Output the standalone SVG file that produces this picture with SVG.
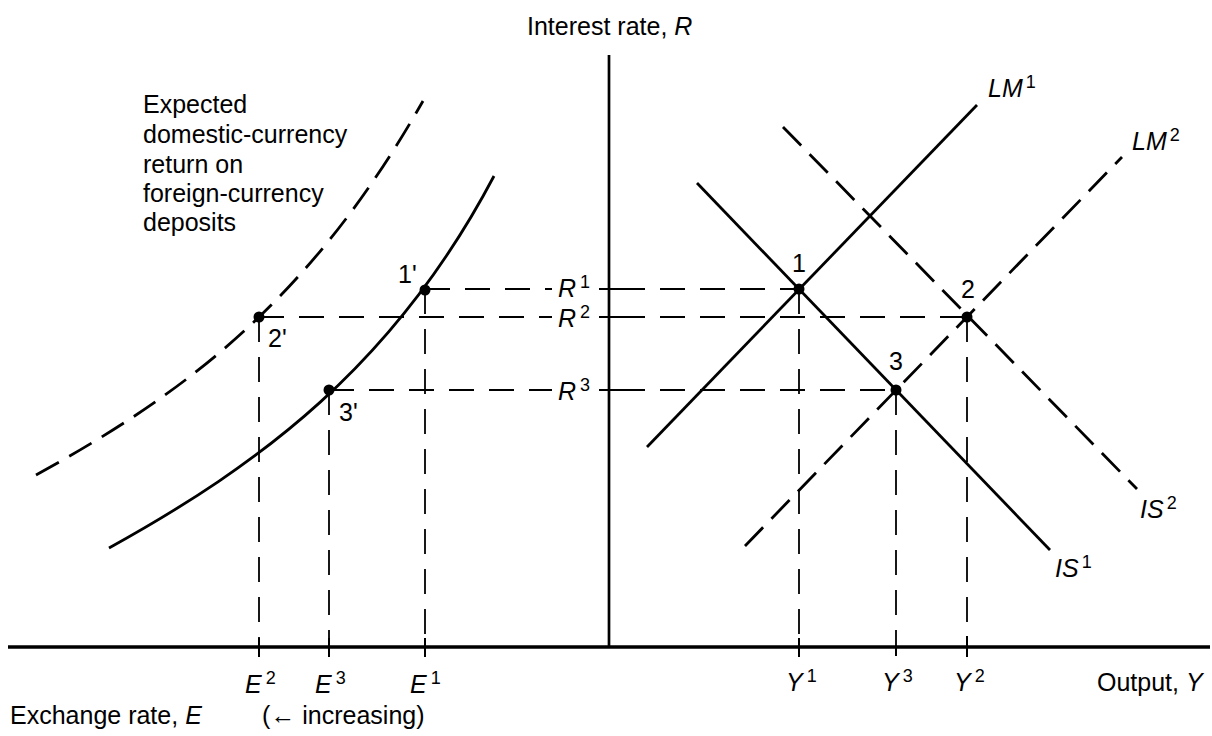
<svg xmlns="http://www.w3.org/2000/svg" width="1212" height="736" viewBox="0 0 1212 736">
<style>
text{font-family:"Liberation Sans",Arial,sans-serif;font-size:25px;fill:#000}
.it{font-style:italic}
.sup{font-size:18px;font-style:normal}
.axis{stroke:#000;fill:none}
.curve{stroke:#000;stroke-width:2.8;fill:none}
.dcurve{stroke:#000;stroke-width:2.8;fill:none;stroke-dasharray:26 12}
.guide{stroke:#000;stroke-width:1.8;fill:none;stroke-dasharray:25 15}
.tick{stroke:#000;stroke-width:2}
.dot{fill:#000}
</style>
<rect width="1212" height="736" fill="#fff"/>
<g id="axes">
<line class="axis" x1="609" y1="55" x2="609" y2="647" stroke-width="2.7"/>
<line class="axis" x1="8" y1="647" x2="1210" y2="647" stroke-width="3.5"/>
<line class="tick" x1="599" y1="289" x2="620" y2="289"/>
<line class="tick" x1="599" y1="317" x2="620" y2="317"/>
<line class="tick" x1="599" y1="390" x2="620" y2="390"/>
<line class="tick" x1="259" y1="638" x2="259" y2="657"/>
<line class="tick" x1="329" y1="638" x2="329" y2="657"/>
<line class="tick" x1="425" y1="638" x2="425" y2="657"/>
<line class="tick" x1="799" y1="638" x2="799" y2="657"/>
<line class="tick" x1="896" y1="645" x2="896" y2="656"/>
<line class="tick" x1="967" y1="636" x2="967" y2="657"/>
<text x="527" y="35">Interest rate, <tspan class="it">R</tspan></text>
<text x="10" y="724">Exchange rate, <tspan class="it">E</tspan></text>
<text x="262" y="724">(← increasing)</text>
<text x="1097" y="691">Output, <tspan class="it">Y</tspan></text>
</g>
<g id="connectors">
<line class="guide" x1="425" y1="289" x2="552" y2="289"/>
<line class="guide" x1="259" y1="317" x2="552" y2="317"/>
<line class="guide" x1="329" y1="390" x2="552" y2="390"/>
<line class="guide" x1="620" y1="289" x2="799" y2="289"/>
<line class="guide" x1="620" y1="317" x2="967" y2="317"/>
<line class="guide" x1="620" y1="390" x2="896" y2="390"/>
<line class="guide" x1="259" y1="317" x2="259" y2="646"/>
<line class="guide" x1="329" y1="390" x2="329" y2="646"/>
<line class="guide" x1="425" y1="289" x2="425" y2="646"/>
<line class="guide" x1="799" y1="289" x2="799" y2="646"/>
<line class="guide" x1="896" y1="390" x2="896" y2="646"/>
<line class="guide" x1="967" y1="317" x2="967" y2="646"/>
</g>
<g id="return-curve-1">
<path class="curve" d="M109,548 C259,465 394,366 494,176"/>
</g>
<g id="return-curve-2">
<path class="dcurve" d="M36,475 C186,392.5 310,300 423,101"/>
<text x="143" y="113">Expected</text>
<text x="143" y="143">domestic-currency</text>
<text x="143" y="173">return on</text>
<text x="143" y="202">foreign-currency</text>
<text x="143" y="231">deposits</text>
</g>
<g id="LM1">
<line class="curve" x1="647" y1="447" x2="977" y2="105"/>
<text x="988" y="97"><tspan class="it">LM</tspan><tspan class="sup" dx="3" dy="-9">1</tspan></text>
</g>
<g id="LM2">
<line class="dcurve" x1="745" y1="546" x2="1122" y2="157"/>
<text x="1132" y="150"><tspan class="it">LM</tspan><tspan class="sup" dx="3" dy="-9">2</tspan></text>
</g>
<g id="IS1">
<line class="curve" x1="697" y1="183" x2="1050" y2="550"/>
<text x="1055" y="577"><tspan class="it">IS</tspan><tspan class="sup" dx="3" dy="-9">1</tspan></text>
</g>
<g id="IS2">
<line class="dcurve" x1="783" y1="127" x2="1137" y2="489"/>
<text x="1140" y="518"><tspan class="it">IS</tspan><tspan class="sup" dx="3" dy="-9">2</tspan></text>
</g>
<g id="point-1p">
<circle class="dot" cx="425" cy="290" r="5.5"/>
<text x="398" y="283">1'</text>
</g>
<g id="point-2p">
<circle class="dot" cx="259" cy="317" r="5.5"/>
<text x="268" y="347">2'</text>
</g>
<g id="point-3p">
<circle class="dot" cx="329" cy="390" r="5.5"/>
<text x="339" y="421">3'</text>
</g>
<g id="point-1">
<circle class="dot" cx="799" cy="289" r="5.5"/>
<text x="792" y="272">1</text>
</g>
<g id="point-2">
<circle class="dot" cx="967" cy="317" r="5.5"/>
<text x="961" y="298">2</text>
</g>
<g id="point-3">
<circle class="dot" cx="896" cy="390" r="5.5"/>
<text x="889" y="370">3</text>
</g>
<g id="R-labels">
<text x="558" y="297"><tspan class="it">R</tspan><tspan class="sup" dx="4" dy="-9">1</tspan></text>
<text x="558" y="327"><tspan class="it">R</tspan><tspan class="sup" dx="4" dy="-9">2</tspan></text>
<text x="558" y="400"><tspan class="it">R</tspan><tspan class="sup" dx="4" dy="-9">3</tspan></text>
</g>
<g id="E-labels">
<text x="245" y="693"><tspan class="it">E</tspan><tspan class="sup" dx="4" dy="-9">2</tspan></text>
<text x="315" y="693"><tspan class="it">E</tspan><tspan class="sup" dx="4" dy="-9">3</tspan></text>
<text x="410" y="693"><tspan class="it">E</tspan><tspan class="sup" dx="4" dy="-9">1</tspan></text>
</g>
<g id="Y-labels">
<text x="786" y="691"><tspan class="it">Y</tspan><tspan class="sup" dx="4" dy="-9">1</tspan></text>
<text x="882" y="691"><tspan class="it">Y</tspan><tspan class="sup" dx="4" dy="-9">3</tspan></text>
<text x="954" y="691"><tspan class="it">Y</tspan><tspan class="sup" dx="4" dy="-9">2</tspan></text>
</g>
</svg>
